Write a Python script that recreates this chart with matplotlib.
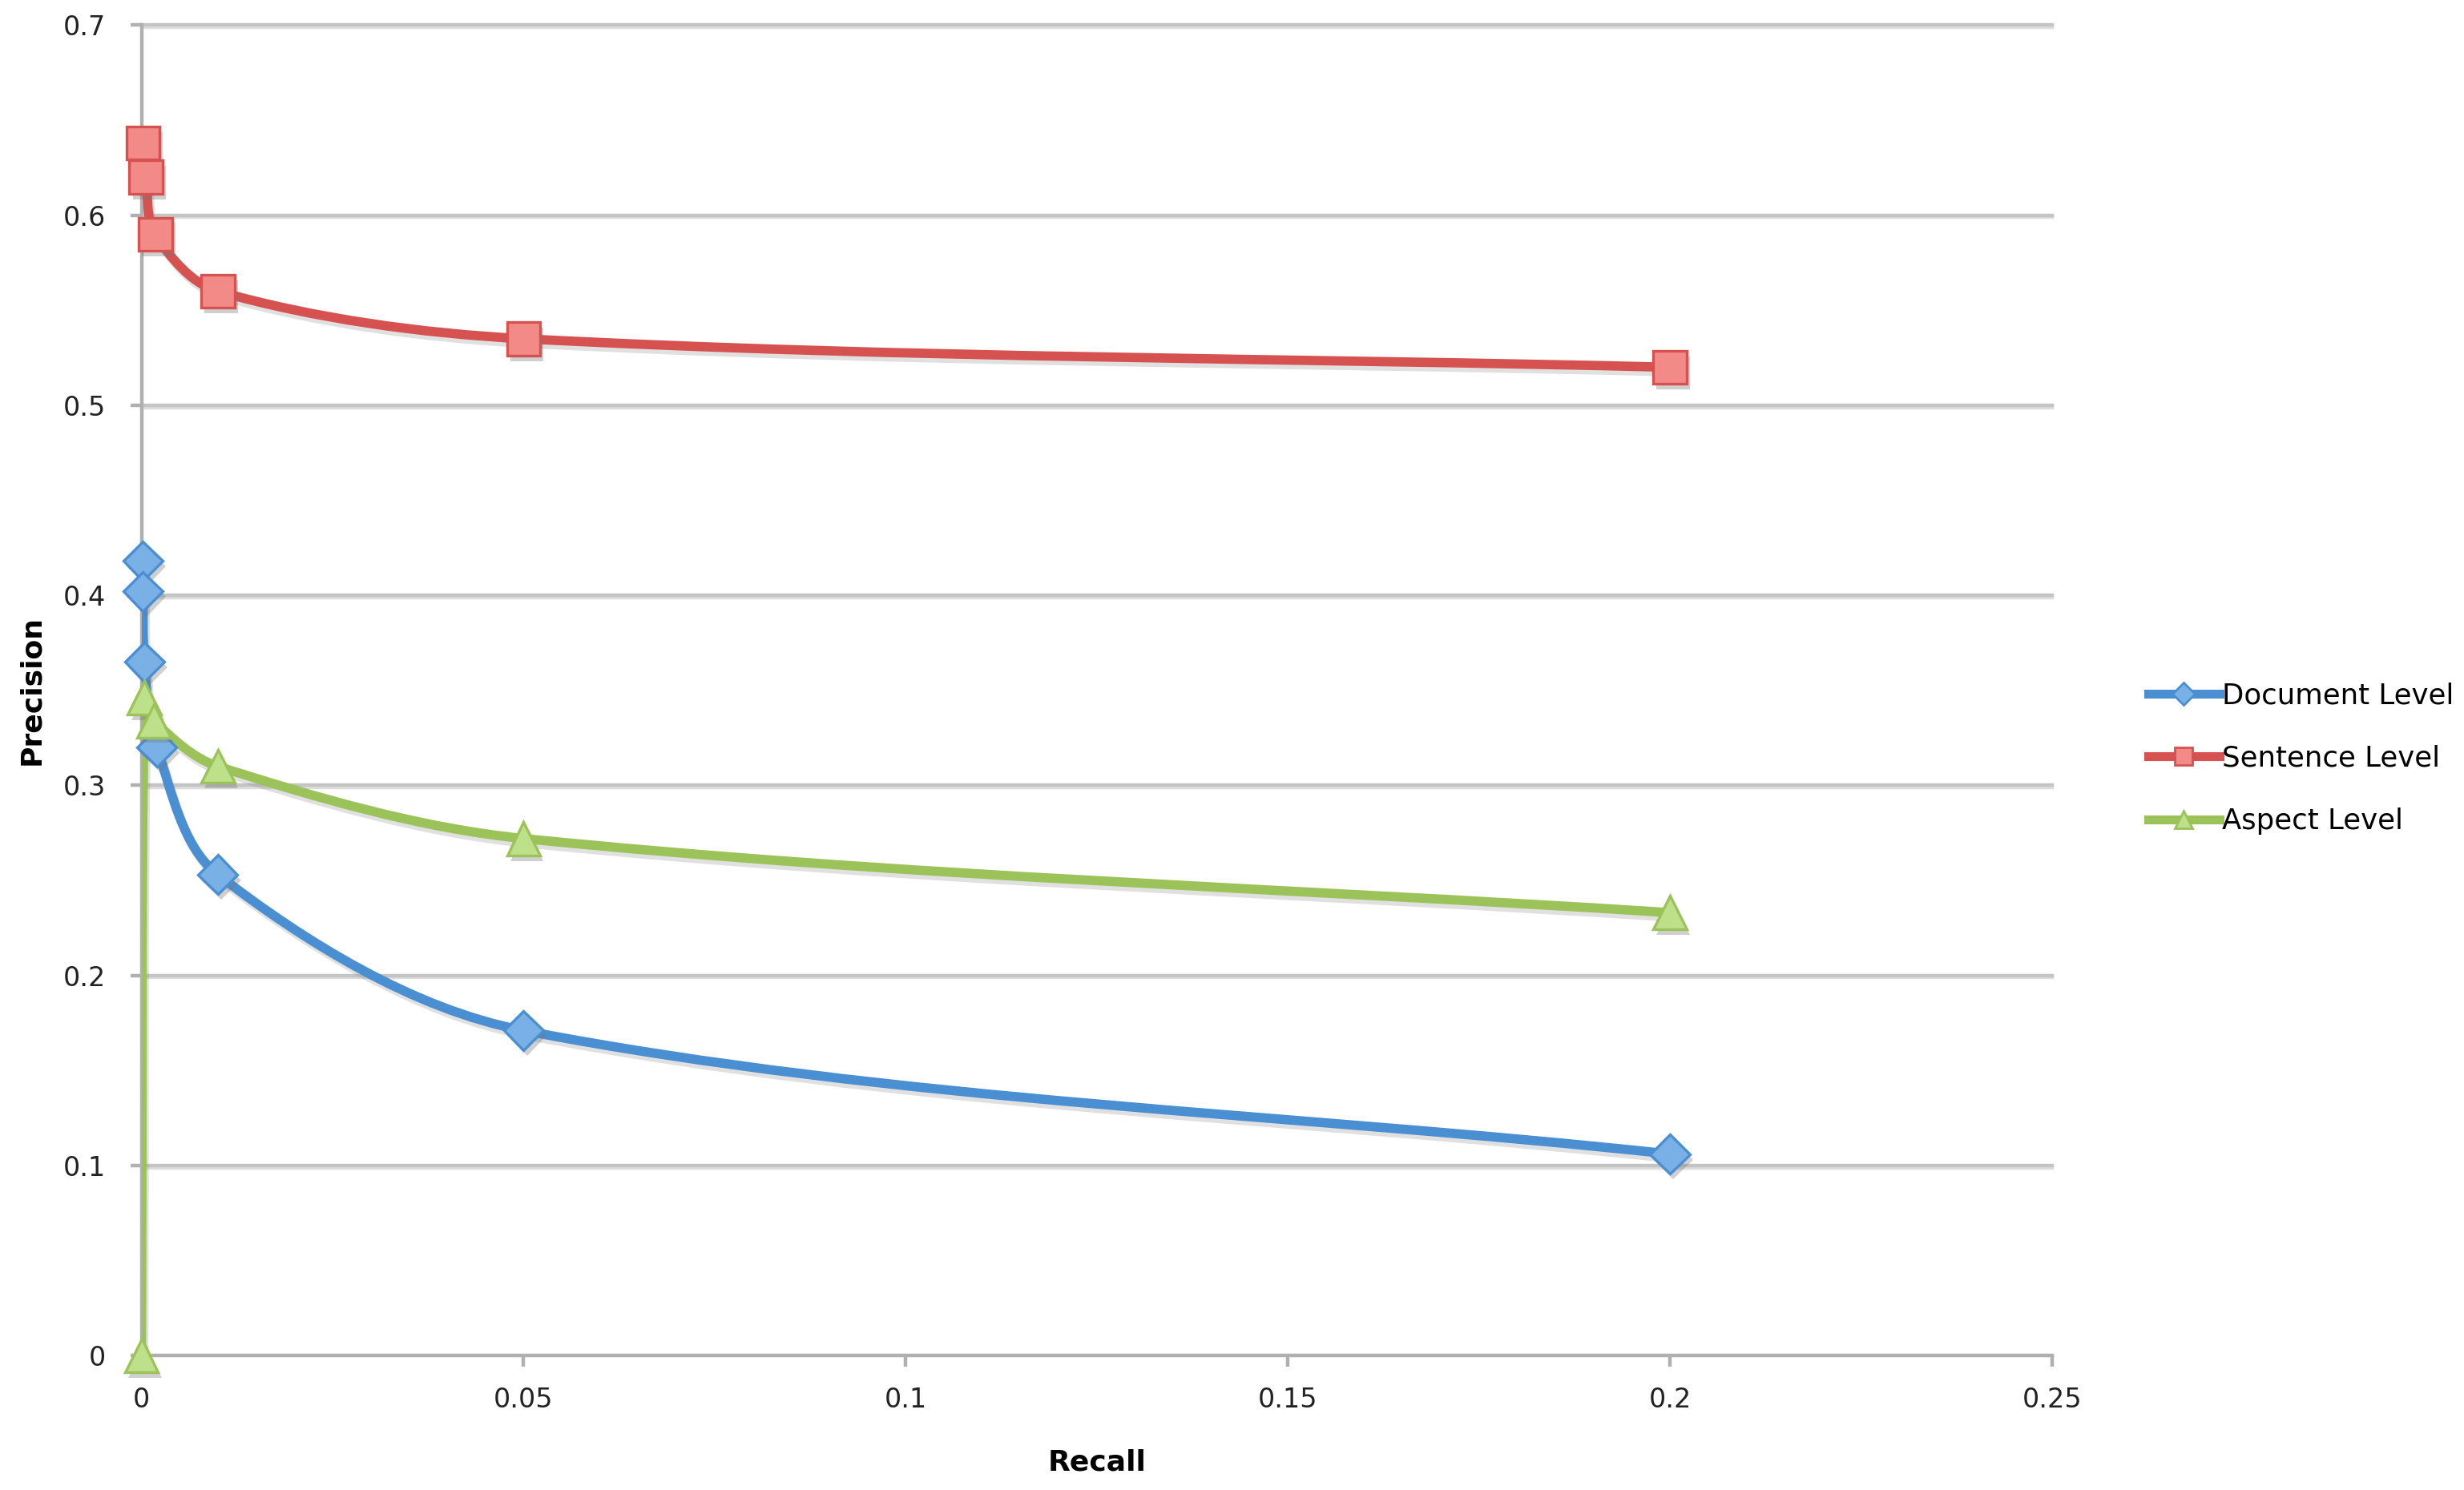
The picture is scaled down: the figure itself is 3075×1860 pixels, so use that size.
import matplotlib
matplotlib.use("Agg")
import matplotlib.pyplot as plt
from matplotlib.path import Path
from matplotlib.patches import PathPatch
from matplotlib.lines import Line2D
import matplotlib.patheffects as pe
import numpy as np

# values
recall_doc = [0.0002, 0.0002, 0.0004, 0.002, 0.01, 0.05, 0.2]
prec_doc = [0.418, 0.402, 0.365, 0.32, 0.253, 0.171, 0.106]

recall_sent = [0.0002, 0.0006, 0.0018, 0.01, 0.05, 0.2]
prec_sent = [0.638, 0.62, 0.59, 0.56, 0.535, 0.52]

recall_asp = [0.0, 0.0004, 0.0016, 0.01, 0.05, 0.2]
prec_asp = [0.0, 0.346, 0.334, 0.31, 0.272, 0.233]

series_names = ["Document Level", "Sentence Level", "Aspect Level"]
x_ticks = [0, 0.05, 0.1, 0.15, 0.2, 0.25]
x_tick_labels = ["0", "0.05", "0.1", "0.15", "0.2", "0.25"]
y_ticks = [0, 0.1, 0.2, 0.3, 0.4, 0.5, 0.6, 0.7]
y_tick_labels = ["0", "0.1", "0.2", "0.3", "0.4", "0.5", "0.6", "0.7"]

XMAX, YMAX = 0.25, 0.7


def smooth_path(xs, ys, sx, sy):
    # excel-like smoothed line: cubic bezier segments, tangents scaled by chord length
    P = np.column_stack([xs, ys]).astype(float)
    S = P * [sx, sy]
    n = len(P)
    L = [np.hypot(*(S[i + 1] - S[i])) for i in range(n - 1)]
    verts = [P[0]]
    codes = [Path.MOVETO]
    for i in range(n - 1):
        if i == 0:
            c1 = P[0] + (P[1] - P[0]) / 3
        else:
            t = P[i + 1] - P[i - 1]
            w = L[i] / (L[i] + L[i - 1] + 1e-9)
            c1 = P[i] + t * w / 3
        if i + 1 == n - 1:
            c2 = P[i + 1] - (P[i + 1] - P[i]) / 3
        else:
            t = P[i + 2] - P[i]
            w = L[i] / (L[i] + L[i + 1] + 1e-9)
            c2 = P[i + 1] - t * w / 3
        verts += [c1, c2, P[i + 1]]
        codes += [Path.CURVE4] * 3
    return Path(verts, codes)


fig = plt.figure(figsize=(15.375, 9.3), dpi=200)
ax = fig.add_axes([0.0574, 0.0903, 0.7754, 0.8928])
ax.set_xlim(0, XMAX)
ax.set_ylim(0, YMAX)

# pixel scale of the axes for the smoothing
sx = 0.7754 * 3075 / XMAX
sy = 0.8928 * 1860 / YMAX

for yv in y_ticks[1:]:
    ax.axhline(yv, color="#c4c4c4", lw=1.6, zorder=0.5, clip_on=False,
               path_effects=[pe.SimpleLineShadow(offset=(0, -1), shadow_color="#dddddd", alpha=1),
                             pe.Normal()])

styles = [
    dict(x=recall_doc, y=prec_doc, line="#4a8fd2", face="#79b0e6", edge="#4a8fd2", marker="D", ms=12.5),
    dict(x=recall_sent, y=prec_sent, line="#d65250", face="#f28a88", edge="#d65250", marker="s", ms=15),
    dict(x=recall_asp, y=prec_asp, line="#9cc35a", face="#bde08a", edge="#9cc35a", marker="^", ms=15),
]

shadow = [pe.SimplePatchShadow(offset=(1.5, -2.5), shadow_rgbFace="#777777", alpha=0.35), pe.Normal()]

handles = []
for st, name in zip(styles, series_names):
    path = smooth_path(st["x"], st["y"], sx, sy)
    patch = PathPatch(path, facecolor="none", edgecolor=st["line"], lw=4.2,
                      capstyle="round", joinstyle="round", zorder=3,
                      path_effects=[pe.SimpleLineShadow(offset=(1, -2), shadow_color="#999999", alpha=0.3),
                                    pe.Normal()])
    ax.add_patch(patch)
    ax.plot(st["x"], st["y"], linestyle="none", marker=st["marker"], ms=st["ms"],
            markerfacecolor=st["face"], markeredgecolor=st["edge"], markeredgewidth=1.2,
            zorder=4, clip_on=False, path_effects=shadow)
    handles.append(Line2D([], [], color=st["line"], lw=4.0, marker=st["marker"],
                          ms=st["ms"] * 0.55, markerfacecolor=st["face"],
                          markeredgecolor=st["edge"], label=name))

ax.spines["top"].set_visible(False)
ax.spines["right"].set_visible(False)
ax.spines["left"].set_color("#b0b0b0")
ax.spines["left"].set_linewidth(1.6)
ax.spines["bottom"].set_color("#b0b0b0")
ax.spines["bottom"].set_linewidth(1.6)
ax.spines["left"].set_zorder(1)

ax.set_xticks(x_ticks)
ax.set_xticklabels(x_tick_labels)
ax.set_yticks(y_ticks)
ax.set_yticklabels(y_tick_labels)
ax.tick_params(axis="both", colors="#b0b0b0", width=1.6, length=5, labelsize=12,
               labelcolor="#222222")
ax.tick_params(axis="x", pad=9)
ax.tick_params(axis="y", pad=11)

ax.set_xlabel("Recall", fontsize=13, fontweight="bold", labelpad=16)
ax.set_ylabel("Precision", fontsize=13, fontweight="bold", labelpad=8)

fig.legend(handles=handles, loc="center left", bbox_to_anchor=(0.866, 0.491),
           frameon=False, fontsize=12.8, handlelength=2.5, handletextpad=0.1,
           labelspacing=1.25, borderpad=0)

fig.savefig("out.png", dpi=200)
